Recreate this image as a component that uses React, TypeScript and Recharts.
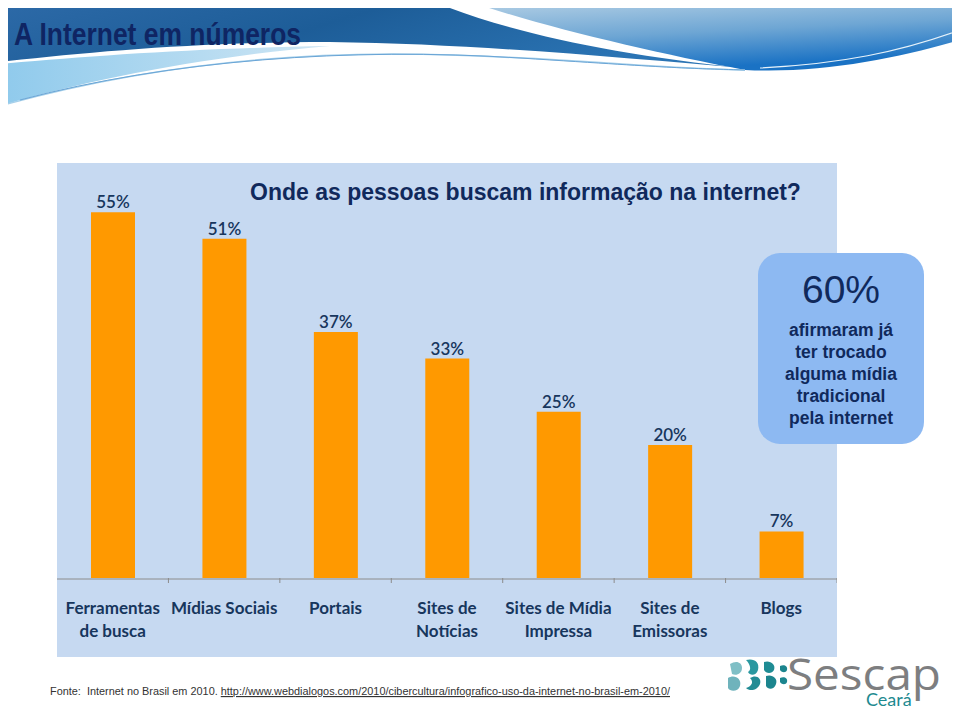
import React from "react";
import { BarChart, Bar, XAxis, YAxis, LabelList } from "recharts";

const categories = [
  "Ferramentas\nde busca",
  "Mídias Sociais",
  "Portais",
  "Sites de\nNotícias",
  "Sites de Mídia\nImpressa",
  "Sites de\nEmissoras",
  "Blogs",
];
const values = [55, 51, 37, 33, 25, 20, 7];
const edgeTicks = [0, 1, 2, 3, 4, 5, 6, 7];

const chartTitle = "Onde as pessoas buscam informação na internet?";
const slideTitle = "A Internet em números";
const calloutValue = "60%";
const calloutLines = ["afirmaram já", "ter trocado", "alguma mídia", "tradicional", "pela internet"];
const sourceLabel = "Fonte:  Internet no Brasil em 2010. ";
const sourceLink = "http://www.webdialogos.com/2010/cibercultura/infografico-uso-da-internet-no-brasil-em-2010/";

const data = categories.map((c, i) => ({ cat: c, value: values[i], slot: i + 0.5 }));

const NAVY = "#10295c";
const LABEL_NAVY = "#17365d";

const CatTick = (props: any) => {
  const { x, y, payload } = props;
  const lines = String(payload.value).split("\n");
  return (
    <text
      x={x}
      y={y}
      textAnchor="middle"
      fill={LABEL_NAVY}
      fontFamily="Lato, sans-serif"
      fontWeight="bold"
      fontSize={17}
    >
      {lines.map((l, i) => (
        <tspan key={i} x={x} dy={i === 0 ? 35 : 23}>
          {l}
        </tspan>
      ))}
    </text>
  );
};

const EmptyTick = () => <g />;

const Header = () => (
  <svg width={960} height={110} style={{ position: "absolute", left: 0, top: 0 }}>
    <defs>
      <linearGradient id="darkG" x1="0" y1="0" x2="1" y2="0.3">
        <stop offset="0" stopColor="#2d6aa8" />
        <stop offset="0.5" stopColor="#1d5d98" />
        <stop offset="1" stopColor="#2b74b4" />
      </linearGradient>
      <linearGradient id="rightG" x1="0" y1="0" x2="0.35" y2="1">
        <stop offset="0" stopColor="#b7d2e6" />
        <stop offset="0.55" stopColor="#6ea6d4" />
        <stop offset="1" stopColor="#1a72c4" />
      </linearGradient>
      <linearGradient id="ribG" x1="0" y1="0" x2="1" y2="0">
        <stop offset="0" stopColor="#8fcaec" />
        <stop offset="1" stopColor="#cfe6f4" />
      </linearGradient>
    </defs>
    <path d="M0,0 H430 C500,30 610,55 745,68 C620,58 480,44 330,42 C200,42 90,52 0,62 Z" fill="url(#darkG)" />
    <path d="M465,0 H960 V40 C900,58 820,74 745,70 C650,52 540,26 465,0 Z" fill="url(#rightG)" />
    <path d="M0,64 C90,56 200,48 330,46 C200,57 80,82 0,106 Z" fill="url(#ribG)" />
    <path d="M0,106 C150,64 300,50 450,55 S650,68 745,70" stroke="#a7d0ea" strokeWidth={1.5} fill="none" />
    <path d="M20,100 C170,60 350,47 520,58 S680,68 745,70" stroke="#6aa5d6" strokeWidth={1} fill="none" />
    <path d="M760,68 C840,64 900,52 960,30" stroke="#e6f2fa" strokeWidth={1.2} fill="none" />
    <text
      x={14}
      y={45}
      fontFamily="'Liberation Sans', Arial, sans-serif"
      fontWeight="bold"
      fontSize={32}
      fill="#0f2563"
      textLength={287}
      lengthAdjust="spacingAndGlyphs"
    >
      {slideTitle}
    </text>
  </svg>
);

const Logo = () => (
  <svg width={240} height={76} style={{ position: "absolute", left: 720, top: 640 }}>
    <g transform="translate(0,16)">
      <path d="M10,8 C16,4 22,6 22,12 C22,18 16,20 12,18 Z" fill="#7fbfc6" />
      <path d="M8,22 C14,18 22,22 20,30 C18,36 10,36 8,32 Z" fill="#6fb3bc" />
      <path d="M26,4 C34,2 40,6 38,14 C36,20 30,20 28,16 C32,14 30,8 26,4 Z" fill="#2a98a0" />
      <path d="M30,22 C36,18 42,22 40,28 C38,34 30,36 26,32 C32,30 34,26 30,22 Z" fill="#238c95" />
      <path d="M44,6 C50,4 56,8 54,14 C52,18 46,18 44,14 Z" fill="#1f8c94" />
      <path d="M46,20 C52,18 58,22 56,28 C54,34 48,34 46,30 Z" fill="#1c858e" />
      <path d="M60,10 C64,8 68,10 67,14 C66,17 62,17 60,14 Z" fill="#1c858e" />
      <path d="M60,22 C64,20 68,22 67,26 C66,29 62,29 60,26 Z" fill="#1c858e" />
      <text x={67} y={34} fontFamily="'Open Sans', sans-serif" fontSize={44} fill="#7d7e80" textLength={154} lengthAdjust="spacingAndGlyphs">
        Sescap
      </text>
      <text x={146} y={50} fontFamily="Lato, sans-serif" fontSize={18} fill="#1d8a8f">
        Ceará
      </text>
    </g>
  </svg>
);

export default function App() {
  return (
    <div
      style={{
        position: "relative",
        width: 960,
        height: 716,
        margin: -8,
        overflow: "hidden",
        background: "#ffffff",
      }}
    >
      <Header />
      <Logo />
      <div
        style={{
          position: "absolute",
          left: 57,
          top: 163,
          width: 780,
          height: 494,
          background: "#c6d9f1",
        }}
      >
        <BarChart
          width={780}
          height={494}
          data={data}
          margin={{ top: 16, right: 0, left: 0, bottom: 0 }}
        >
          <XAxis
            xAxisId="a"
            type="number"
            scale="linear"
            dataKey="slot"
            domain={[0, categories.length]}
            ticks={edgeTicks}
            tick={EmptyTick}
            axisLine={false}
            tickLine={{ stroke: "#8c8c8c" }}
            tickSize={5}
            height={1}
            allowDataOverflow
          />
          <XAxis
            xAxisId="b"
            dataKey="cat"
            height={78}
            axisLine={{ stroke: "#8c8c8c" }}
            tickLine={false}
            tickSize={0}
            tickMargin={0}
            interval={0}
            tick={<CatTick />}
          />
          <YAxis hide domain={[0, 60]} />
          <Bar
            xAxisId="b"
            dataKey="value"
            fill="#ff9900"
            barSize={44}
            isAnimationActive={false}
          >
            <LabelList
              dataKey="value"
              position="top"
              offset={4}
              formatter={(v: any) => `${v}%`}
              fill={LABEL_NAVY}
              fontFamily="Lato, sans-serif"
              fontWeight={600}
              fontSize={17}
            />
          </Bar>
        </BarChart>
      </div>
      <svg width={960} height={716} style={{ position: "absolute", left: 0, top: 0, pointerEvents: "none" }}>
        <text
          x={250}
          y={200}
          fontFamily="'Liberation Sans', Arial, sans-serif"
          fontWeight="bold"
          fontSize={23}
          fill={NAVY}
        >
          {chartTitle}
        </text>
        <rect x={758} y={253} width={166} height={191} rx={22} ry={22} fill="#8db9f2" />
        <text
          x={841}
          y={303}
          textAnchor="middle"
          fontFamily="'Liberation Sans', Arial, sans-serif"
          fontSize={39}
          fill={NAVY}
        >
          {calloutValue}
        </text>
        {calloutLines.map((l, i) => (
          <text
            key={i}
            x={841}
            y={336 + i * 22}
            textAnchor="middle"
            fontFamily="'Liberation Sans', Arial, sans-serif"
            fontWeight="bold"
            fontSize={17.5}
            fill={NAVY}
          >
            {l}
          </text>
        ))}
        <text
          x={50}
          y={695}
          fontFamily="'Liberation Sans', Arial, sans-serif"
          fontSize={11.5}
          fill="#333333"
          textLength={620}
          lengthAdjust="spacingAndGlyphs"
          style={{ whiteSpace: "pre" }}
        >
          <tspan>{sourceLabel}</tspan>
          <tspan textDecoration="underline" style={{ textDecoration: "underline" }}>
            {sourceLink}
          </tspan>
        </text>
      </svg>
    </div>
  );
}
